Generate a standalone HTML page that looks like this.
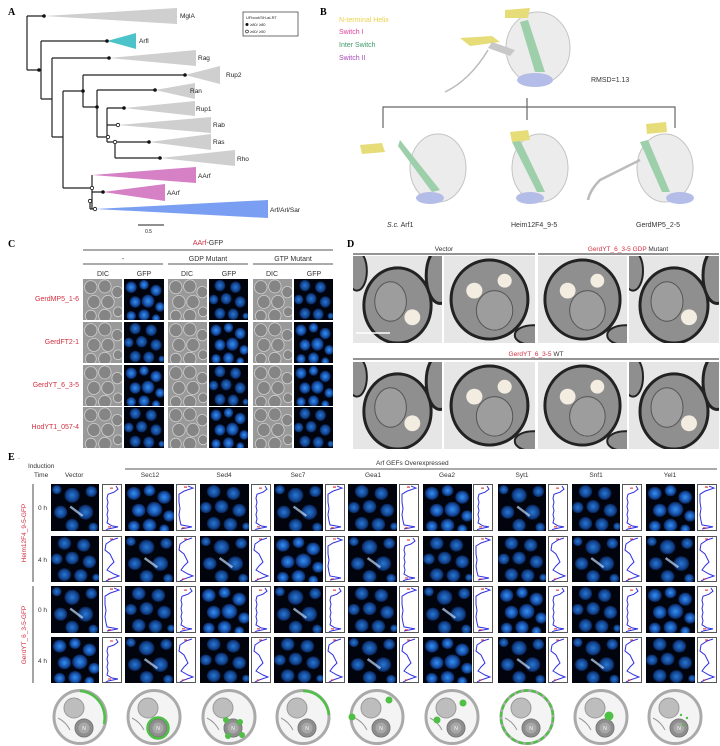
<!DOCTYPE html>
<html><head><meta charset="utf-8"><style>
html,body{margin:0;padding:0;background:#fff;}
svg{display:block;font-family:"Liberation Sans",sans-serif;}
.pl{font-family:"Liberation Serif",serif;font-weight:bold;font-size:10px;}
</style></head><body>
<svg width="720" height="746" viewBox="0 0 720 746" xmlns="http://www.w3.org/2000/svg">
<defs>
<radialGradient id="bc"><stop offset="0" stop-color="#3590f0"/><stop offset="0.6" stop-color="#1a58b4"/><stop offset="1" stop-color="#0a2458"/></radialGradient>
<radialGradient id="bd"><stop offset="0" stop-color="#2878d4"/><stop offset="0.7" stop-color="#134590"/><stop offset="1" stop-color="#081e4c"/></radialGradient>
<symbol id="gA" viewBox="0 0 50 50" preserveAspectRatio="none"><rect width="50" height="50" fill="#01040c"/>
<g fill="url(#bc)"><circle cx="9" cy="10" r="7"/><circle cx="25" cy="7" r="6"/><circle cx="40" cy="14" r="7"/><circle cx="14" cy="28" r="7"/><circle cx="30" cy="27" r="8"/><circle cx="45" cy="34" r="6"/><circle cx="9" cy="45" r="6"/><circle cx="25" cy="44" r="7"/><circle cx="40" cy="48" r="5"/></g></symbol>
<symbol id="gB" viewBox="0 0 50 50" preserveAspectRatio="none"><rect width="50" height="50" fill="#01040c"/>
<g fill="url(#bd)"><circle cx="14" cy="8" r="7"/><circle cx="34" cy="10" r="7"/><circle cx="6" cy="25" r="6"/><circle cx="22" cy="24" r="7"/><circle cx="40" cy="28" r="7"/><circle cx="14" cy="42" r="7"/><circle cx="31" cy="43" r="7"/><circle cx="47" cy="45" r="4"/></g></symbol>
<symbol id="gC" viewBox="0 0 50 50" preserveAspectRatio="none"><rect width="50" height="50" fill="#01040c"/>
<g fill="url(#bd)"><circle cx="6" cy="6" r="5"/><circle cx="22" cy="12" r="8"/><circle cx="42" cy="8" r="6"/><circle cx="10" cy="30" r="7"/><circle cx="36" cy="30" r="8"/><circle cx="22" cy="44" r="7"/><circle cx="44" cy="46" r="5"/></g>
<line x1="20" y1="24" x2="33" y2="34" stroke="#b8d0f0" stroke-width="2.5" opacity=".75"/></symbol>
<symbol id="dA" viewBox="0 0 50 50" preserveAspectRatio="none"><rect width="50" height="50" fill="#999"/>
<g fill="#858585" stroke="#cfcfcf" stroke-width="1"><circle cx="10" cy="10" r="8"/><circle cx="28" cy="9" r="8"/><circle cx="44" cy="16" r="7"/><circle cx="14" cy="28" r="8"/><circle cx="32" cy="28" r="8"/><circle cx="10" cy="45" r="7"/><circle cx="28" cy="45" r="8"/><circle cx="45" cy="40" r="6"/></g></symbol>
<symbol id="pA" viewBox="0 0 20 46" preserveAspectRatio="none"><rect x=".5" y=".5" width="19" height="45" fill="#fff" stroke="#555"/>
<polyline fill="none" stroke="#3030e0" stroke-width="1" points="14,2 16,5 12,8 6,10 5,14 6,18 5,22 6,26 5,30 6,34 5,38 10,41 16,42 6,44 4,45"/>
<path d="M8 4h3M6 42h3" stroke="#e02020" stroke-width="1"/></symbol>
<symbol id="pB" viewBox="0 0 20 46" preserveAspectRatio="none"><rect x=".5" y=".5" width="19" height="45" fill="#fff" stroke="#555"/>
<polyline fill="none" stroke="#3030e0" stroke-width="1" points="16,2 10,4 4,8 3,14 8,18 10,22 12,26 8,30 5,34 12,38 17,40 8,43 4,45"/>
<path d="M8 3h3M6 43h3" stroke="#e02020" stroke-width="1"/></symbol>
<symbol id="pC" viewBox="0 0 20 46" preserveAspectRatio="none"><rect x=".5" y=".5" width="19" height="45" fill="#fff" stroke="#555"/>
<polyline fill="none" stroke="#3030e0" stroke-width="1" points="12,2 17,4 8,7 3,10 3,18 4,24 3,30 4,36 5,40 16,42 5,44"/>
<path d="M8 3h3M6 43h3" stroke="#e02020" stroke-width="1"/></symbol>
<symbol id="emA" viewBox="0 0 90 88" preserveAspectRatio="none"><rect width="90" height="88" fill="#e6e6e6"/>
<ellipse cx="45" cy="50" rx="34" ry="38" fill="#8f8f8f" stroke="#222" stroke-width="3"/>
<ellipse cx="38" cy="46" rx="16" ry="20" fill="#9d9d9d" stroke="#555" stroke-width="1"/>
<circle cx="60" cy="62" r="8" fill="#f3ece0"/><ellipse cx="88" cy="20" rx="14" ry="28" fill="#8f8f8f" stroke="#222" stroke-width="3"/><ellipse cx="4" cy="15" rx="10" ry="20" fill="#8f8f8f" stroke="#222" stroke-width="2"/></symbol>
<symbol id="emB" viewBox="0 0 90 88" preserveAspectRatio="none"><rect width="90" height="88" fill="#e6e6e6"/>
<ellipse cx="45" cy="44" rx="38" ry="40" fill="#8f8f8f" stroke="#222" stroke-width="3"/>
<ellipse cx="50" cy="55" rx="18" ry="20" fill="#9d9d9d" stroke="#555" stroke-width="1"/>
<circle cx="30" cy="35" r="8" fill="#f3ece0"/><circle cx="60" cy="25" r="7" fill="#f3ece0"/><ellipse cx="88" cy="80" rx="18" ry="10" fill="#8f8f8f" stroke="#222" stroke-width="2"/></symbol>
<symbol id="cart" viewBox="0 0 56 57"><ellipse cx="28" cy="29" rx="26" ry="26.5" fill="#f4f4f4" stroke="#aaa" stroke-width="3"/>
<circle cx="22" cy="20" r="10" fill="#bdbdbd" stroke="#999"/><circle cx="32" cy="40" r="9" fill="#8e8e8e" stroke="#777"/><circle cx="32" cy="40" r="5.5" fill="#a8a8a8"/>
<path d="M6 30 Q14 34 18 42" fill="none" stroke="#999" stroke-width="1"/></symbol>
</defs>

<!-- Panel A -->
<text x="8" y="15" class="pl">A</text>
<g stroke="#222" stroke-width="1.2" fill="none">
<path d="M27 16V70M27 16H44M27 70H40M41 41V99M41 41H107M41 99H52M52 58V137M52 58H109M52 137H63M63 91V188M63 91H83M63 188H92M83 75V107M83 75H185M83 107H97M97 90V137M97 90H155M97 137H107M107 108V142M107 108H124M107 125H118M107 142H115M115 142V158M115 142H149M115 158H160M92 175V209M92 192H103M90 201V209M90 209H95"/>
</g>
<polygon points="44,16 177,8 177,24" fill="#cfcfcf"/>
<polygon points="107,41 136,33 136,49" fill="#4cc3c9"/>
<polygon points="109,58 196,50 196,66" fill="#cfcfcf"/>
<polygon points="185,75 220,66 220,84" fill="#cfcfcf"/>
<polygon points="155,90 195,83 195,99" fill="#cfcfcf"/>
<polygon points="124,108 195,101 195,116" fill="#cfcfcf"/>
<polygon points="118,125 211,117 211,133" fill="#cfcfcf"/>
<polygon points="149,142 211,134 211,150" fill="#cfcfcf"/>
<polygon points="160,158 235,150 235,166" fill="#cfcfcf"/>
<polygon points="92,175 196,167 196,183" fill="#d680c6"/>
<polygon points="103,192 165,184 165,201" fill="#d680c6"/>
<polygon points="95,209 268,200 268,218" fill="#7a9ef2"/>
<g fill="#111"><circle cx="44" cy="16" r="1.8"/><circle cx="39" cy="70" r="1.8"/><circle cx="107" cy="41" r="1.8"/><circle cx="109" cy="58" r="1.8"/><circle cx="83" cy="91" r="1.8"/><circle cx="185" cy="75" r="1.8"/><circle cx="97" cy="107" r="1.8"/><circle cx="155" cy="90" r="1.8"/><circle cx="124" cy="108" r="1.8"/><circle cx="149" cy="142" r="1.8"/><circle cx="160" cy="158" r="1.8"/><circle cx="103" cy="192" r="1.8"/></g>
<g fill="#fff" stroke="#111" stroke-width="0.8"><circle cx="118" cy="125" r="1.7"/><circle cx="108" cy="137" r="1.7"/><circle cx="115" cy="142" r="1.7"/><circle cx="92" cy="188" r="1.7"/><circle cx="90" cy="201" r="1.7"/><circle cx="95" cy="209" r="1.7"/></g>
<g font-size="6.5" fill="#222"><text x="180" y="18">MglA</text><text x="139" y="43">Arfl</text><text x="198" y="60">Rag</text><text x="226" y="77">Rup2</text><text x="190" y="93">Ran</text><text x="196" y="111">Rup1</text><text x="213" y="127">Rab</text><text x="213" y="144">Ras</text><text x="237" y="161">Rho</text><text x="198" y="178">AArf</text><text x="167" y="195">AArf</text><text x="270" y="212">Arf/Arl/Sar</text></g>
<rect x="243" y="12" width="55" height="24" fill="#fff" stroke="#333" stroke-width=".7"/>
<g font-size="4" fill="#222"><text x="246" y="19">UFboot/SH-aLRT</text><text x="250" y="26">≥80/ ≥80</text><text x="250" y="33">≥60/ ≥50</text></g>
<circle cx="247" cy="24.5" r="1.5" fill="#111"/><circle cx="247" cy="31.5" r="1.4" fill="#fff" stroke="#111" stroke-width=".6"/>
<line x1="138" y1="225" x2="164" y2="225" stroke="#222"/><text x="145" y="233" font-size="5" fill="#222">0.5</text>

<!-- Panel B -->
<text x="320" y="15" class="pl">B</text>
<g font-size="7"><text x="339" y="22" fill="#ecd24a">N-terminal Helix</text><text x="339" y="34" fill="#e0409a">Switch I</text><text x="339" y="47" fill="#3f9a6d">Inter Switch</text><text x="339" y="60" fill="#a848b8">Switch II</text></g>
<text x="591" y="82" font-size="7" fill="#333">RMSD=1.13</text>
<path d="M383 128V107H675V128M527 98V120" fill="none" stroke="#666" stroke-width="1.2"/>
<g>
<ellipse cx="538" cy="48" rx="32" ry="36" fill="#ececec" stroke="#c4c4c4"/>
<path d="M528 20 L545 72 L535 72 L520 22Z" fill="#9ccfaa"/>
<ellipse cx="535" cy="80" rx="18" ry="7" fill="#b4bde8"/>
<path d="M460 38 L492 36 L500 42 L470 46Z" fill="#e6dc78"/>
<path d="M492 42 L515 50 L510 56 L488 48 Z" fill="#c8c8c8"/>
<path d="M488 50 Q470 80 445 92" fill="none" stroke="#bbb" stroke-width="1.5"/>
<path d="M505 10 L530 8 L528 18 L505 18Z" fill="#e6dc78"/>
</g>
<g>
<ellipse cx="438" cy="168" rx="28" ry="34" fill="#ececec" stroke="#c4c4c4"/><path d="M400 140 L440 190 L432 192 L398 146Z" fill="#9ccfaa"/><ellipse cx="430" cy="198" rx="14" ry="6" fill="#b4bde8"/><path d="M360 145 L382 143 L385 152 L362 154Z" fill="#e6dc78"/>
<ellipse cx="540" cy="168" rx="28" ry="34" fill="#ececec" stroke="#c4c4c4"/><path d="M520 140 L545 192 L537 192 L512 142Z" fill="#9ccfaa"/><ellipse cx="530" cy="198" rx="14" ry="6" fill="#b4bde8"/><path d="M510 132 L528 130 L530 140 L512 142Z" fill="#e6dc78"/>
<ellipse cx="665" cy="168" rx="28" ry="34" fill="#ececec" stroke="#c4c4c4"/><path d="M648 140 L670 192 L662 192 L640 142Z" fill="#9ccfaa"/><ellipse cx="680" cy="198" rx="14" ry="6" fill="#b4bde8"/><path d="M646 124 L666 122 L667 132 L647 134Z" fill="#e6dc78"/>
<path d="M640 160 L600 180 Q590 190 588 200" fill="none" stroke="#bbb" stroke-width="2.5"/>
</g>
<g font-size="7" fill="#333"><text x="387" y="227"><tspan font-style="italic">S.c.</tspan> Arf1</text><text x="511" y="227">Heim12F4_9-5</text><text x="636" y="227">GerdMP5_2-5</text></g>

<!-- Panel C -->
<text x="8" y="247" class="pl">C</text>
<text x="208" y="245" font-size="7" text-anchor="middle"><tspan fill="#d03040">AArf</tspan><tspan fill="#333">-GFP</tspan></text>
<g stroke="#555" stroke-width="1"><line x1="83" y1="250" x2="333" y2="250"/><line x1="83" y1="264" x2="163" y2="264"/><line x1="168" y1="264" x2="248" y2="264"/><line x1="253" y1="264" x2="333" y2="264"/></g>
<g font-size="7" fill="#333" text-anchor="middle"><text x="123" y="261">-</text><text x="208" y="261">GDP Mutant</text><text x="293" y="261">GTP Mutant</text>
<text x="103" y="276">DIC</text><text x="144" y="276">GFP</text><text x="187" y="276">DIC</text><text x="229" y="276">GFP</text><text x="272" y="276">DIC</text><text x="314" y="276">GFP</text></g>
<g font-size="7" fill="#d03040" text-anchor="end"><text x="79" y="301">GerdMP5_1-6</text><text x="79" y="344">GerdFT2-1</text><text x="79" y="387">GerdYT_6_3-5</text><text x="79" y="429">HodYT1_057-4</text></g>
<g>
<use href="#dA" x="83" y="279" width="39" height="41"/><use href="#gA" x="124" y="279" width="40" height="41"/><use href="#dA" x="168" y="279" width="39" height="41"/><use href="#gB" x="209" y="279" width="39" height="41"/><use href="#dA" x="253" y="279" width="39" height="41"/><use href="#gB" x="294" y="279" width="39" height="41"/>
<use href="#dA" x="83" y="322" width="39" height="41"/><use href="#gB" x="124" y="322" width="40" height="41"/><use href="#dA" x="168" y="322" width="39" height="41"/><use href="#gA" x="209" y="322" width="39" height="41"/><use href="#dA" x="253" y="322" width="39" height="41"/><use href="#gA" x="294" y="322" width="39" height="41"/>
<use href="#dA" x="83" y="365" width="39" height="41"/><use href="#gA" x="124" y="365" width="40" height="41"/><use href="#dA" x="168" y="365" width="39" height="41"/><use href="#gB" x="209" y="365" width="39" height="41"/><use href="#dA" x="253" y="365" width="39" height="41"/><use href="#gA" x="294" y="365" width="39" height="41"/>
<use href="#dA" x="83" y="407" width="39" height="41"/><use href="#gB" x="124" y="407" width="40" height="41"/><use href="#dA" x="168" y="407" width="39" height="41"/><use href="#gA" x="209" y="407" width="39" height="41"/><use href="#dA" x="253" y="407" width="39" height="41"/><use href="#gB" x="294" y="407" width="39" height="41"/>
</g>

<!-- Panel D -->
<text x="347" y="247" class="pl">D</text>
<g stroke="#555" stroke-width="1.2"><line x1="353" y1="254" x2="535" y2="254"/><line x1="538" y1="254" x2="719" y2="254"/><line x1="353" y1="359" x2="719" y2="359"/></g>
<g font-size="6.5" text-anchor="middle"><text x="444" y="251" fill="#333">Vector</text><text x="628" y="251"><tspan fill="#d03040">GerdYT_6_3-5 GDP</tspan><tspan fill="#333"> Mutant</tspan></text><text x="536" y="356"><tspan fill="#d03040">GerdYT_6_3-5</tspan><tspan fill="#333"> WT</tspan></text></g>
<use href="#emA" x="353" y="256" width="89" height="87"/><use href="#emB" x="444" y="256" width="91" height="87"/><use href="#emB" x="538" y="256" width="89" height="87"/><use href="#emA" x="629" y="256" width="90" height="87"/>
<use href="#emA" x="353" y="362" width="89" height="87"/><use href="#emB" x="444" y="362" width="91" height="87"/><use href="#emB" x="538" y="362" width="89" height="87"/><use href="#emA" x="629" y="362" width="90" height="87"/>
<line x1="356" y1="333" x2="390" y2="333" stroke="#fff" stroke-width="1.5"/>

<!-- Panel E -->
<text x="8" y="460" class="pl">E</text><text x="18" y="460" font-size="6">·</text>
<g font-size="6.5" fill="#333"><text x="28" y="468">Induction</text><text x="34" y="477">Time</text><text x="65" y="477">Vector</text>
<text x="376" y="465">Arf GEFs Overexpressed</text>
<text x="150" y="477" text-anchor="middle">Sec12</text><text x="224" y="477" text-anchor="middle">Sed4</text><text x="298" y="477" text-anchor="middle">Sec7</text><text x="373" y="477" text-anchor="middle">Gea1</text><text x="447" y="477" text-anchor="middle">Gea2</text><text x="522" y="477" text-anchor="middle">Syt1</text><text x="596" y="477" text-anchor="middle">Snf1</text><text x="670" y="477" text-anchor="middle">Yel1</text>
<text x="38" y="510">0 h</text><text x="38" y="562">4 h</text><text x="38" y="612">0 h</text><text x="38" y="663">4 h</text></g>
<line x1="125" y1="469" x2="717" y2="469" stroke="#555"/>
<g stroke="#666" stroke-width="1.2"><line x1="33" y1="484" x2="33" y2="582"/><line x1="33" y1="586" x2="33" y2="683"/></g>
<g font-size="6.5" fill="#d03040" text-anchor="middle"><text transform="translate(26,533) rotate(-90)">Heim12F4_9-5-GFP</text><text transform="translate(26,635) rotate(-90)">GerdYT_6_3-5-GFP</text></g>
<g>
<use href="#gC" x="51" y="484" width="48" height="47"/><use href="#gB" x="51" y="536" width="48" height="46"/><use href="#gC" x="51" y="586" width="48" height="47"/><use href="#gA" x="51" y="637" width="48" height="46"/>
<use href="#gA" x="125" y="484" width="49" height="47"/><use href="#gC" x="125" y="536" width="49" height="46"/><use href="#gB" x="125" y="586" width="49" height="47"/><use href="#gC" x="125" y="637" width="49" height="46"/>
<use href="#gB" x="200" y="484" width="49" height="47"/><use href="#gC" x="200" y="536" width="49" height="46"/><use href="#gA" x="200" y="586" width="49" height="47"/><use href="#gB" x="200" y="637" width="49" height="46"/>
<use href="#gC" x="274" y="484" width="49" height="47"/><use href="#gA" x="274" y="536" width="49" height="46"/><use href="#gC" x="274" y="586" width="49" height="47"/><use href="#gB" x="274" y="637" width="49" height="46"/>
<use href="#gB" x="348" y="484" width="49" height="47"/><use href="#gC" x="348" y="536" width="49" height="46"/><use href="#gB" x="348" y="586" width="49" height="47"/><use href="#gC" x="348" y="637" width="49" height="46"/>
<use href="#gA" x="423" y="484" width="49" height="47"/><use href="#gB" x="423" y="536" width="49" height="46"/><use href="#gC" x="423" y="586" width="49" height="47"/><use href="#gA" x="423" y="637" width="49" height="46"/>
<use href="#gC" x="498" y="484" width="48" height="47"/><use href="#gB" x="498" y="536" width="48" height="46"/><use href="#gA" x="498" y="586" width="48" height="47"/><use href="#gC" x="498" y="637" width="48" height="46"/>
<use href="#gB" x="572" y="484" width="48" height="47"/><use href="#gC" x="572" y="536" width="48" height="46"/><use href="#gB" x="572" y="586" width="48" height="47"/><use href="#gC" x="572" y="637" width="48" height="46"/>
<use href="#gA" x="646" y="484" width="49" height="47"/><use href="#gC" x="646" y="536" width="49" height="46"/><use href="#gA" x="646" y="586" width="49" height="47"/><use href="#gB" x="646" y="637" width="49" height="46"/>
</g>
<g>
<use href="#pA" x="102" y="484" width="20" height="47"/><use href="#pB" x="102" y="536" width="20" height="46"/><use href="#pC" x="102" y="586" width="20" height="47"/><use href="#pA" x="102" y="637" width="20" height="46"/>
<use href="#pC" x="176" y="484" width="20" height="47"/><use href="#pB" x="176" y="536" width="20" height="46"/><use href="#pA" x="176" y="586" width="20" height="47"/><use href="#pB" x="176" y="637" width="20" height="46"/>
<use href="#pA" x="251" y="484" width="20" height="47"/><use href="#pB" x="251" y="536" width="20" height="46"/><use href="#pA" x="251" y="586" width="20" height="47"/><use href="#pB" x="251" y="637" width="20" height="46"/>
<use href="#pC" x="325" y="484" width="20" height="47"/><use href="#pC" x="325" y="536" width="20" height="46"/><use href="#pA" x="325" y="586" width="20" height="47"/><use href="#pB" x="325" y="637" width="20" height="46"/>
<use href="#pC" x="399" y="484" width="20" height="47"/><use href="#pA" x="399" y="536" width="20" height="46"/><use href="#pC" x="399" y="586" width="20" height="47"/><use href="#pB" x="399" y="637" width="20" height="46"/>
<use href="#pA" x="473" y="484" width="20" height="47"/><use href="#pC" x="473" y="536" width="20" height="46"/><use href="#pC" x="473" y="586" width="20" height="47"/><use href="#pB" x="473" y="637" width="20" height="46"/>
<use href="#pA" x="548" y="484" width="20" height="47"/><use href="#pB" x="548" y="536" width="20" height="46"/><use href="#pA" x="548" y="586" width="20" height="47"/><use href="#pB" x="548" y="637" width="20" height="46"/>
<use href="#pA" x="622" y="484" width="20" height="47"/><use href="#pB" x="622" y="536" width="20" height="46"/><use href="#pA" x="622" y="586" width="20" height="47"/><use href="#pB" x="622" y="637" width="20" height="46"/>
<use href="#pC" x="697" y="484" width="20" height="47"/><use href="#pB" x="697" y="536" width="20" height="46"/><use href="#pA" x="697" y="586" width="20" height="47"/><use href="#pB" x="697" y="637" width="20" height="46"/>
</g>
<g>
<use href="#cart" x="52" y="688" width="56" height="57"/><use href="#cart" x="126" y="688" width="56" height="57"/><use href="#cart" x="201" y="688" width="56" height="57"/><use href="#cart" x="275" y="688" width="56" height="57"/><use href="#cart" x="349" y="688" width="56" height="57"/><use href="#cart" x="424" y="688" width="56" height="57"/><use href="#cart" x="499" y="688" width="56" height="57"/><use href="#cart" x="573" y="688" width="56" height="57"/><use href="#cart" x="647" y="688" width="56" height="57"/>
</g>
<g fill="none" stroke="#4fbf45" stroke-width="2.5">
<path d="M80 691 A26 27 0 0 1 104 724"/>
<circle cx="158" cy="728" r="10.5"/>
<path d="M303 691 A26 27 0 0 1 329 715"/>
<ellipse cx="527" cy="717" rx="26" ry="26.5" stroke-dasharray="5 2.5"/>
</g>
<g fill="#4fbf45">
<circle cx="226" cy="720" r="3"/><circle cx="240" cy="722" r="3"/><circle cx="228" cy="736" r="3"/><circle cx="242" cy="735" r="3"/>
<circle cx="389" cy="700" r="3.5"/><circle cx="352" cy="717" r="3.5"/>
<circle cx="463" cy="703" r="3.5"/><circle cx="437" cy="720" r="3.5"/>
<circle cx="609" cy="716" r="4.5"/>
<circle cx="681" cy="715" r="1.2"/><circle cx="687" cy="718" r="1.2"/><circle cx="683" cy="725" r="1.2"/>
</g>
<g font-size="5" fill="#fff" text-anchor="middle"><text x="84" y="730">N</text><text x="158" y="730">N</text><text x="233" y="730">N</text><text x="307" y="730">N</text><text x="381" y="730">N</text><text x="456" y="730">N</text><text x="531" y="730">N</text><text x="605" y="730">N</text><text x="679" y="730">N</text></g>
</svg>
</body></html>
